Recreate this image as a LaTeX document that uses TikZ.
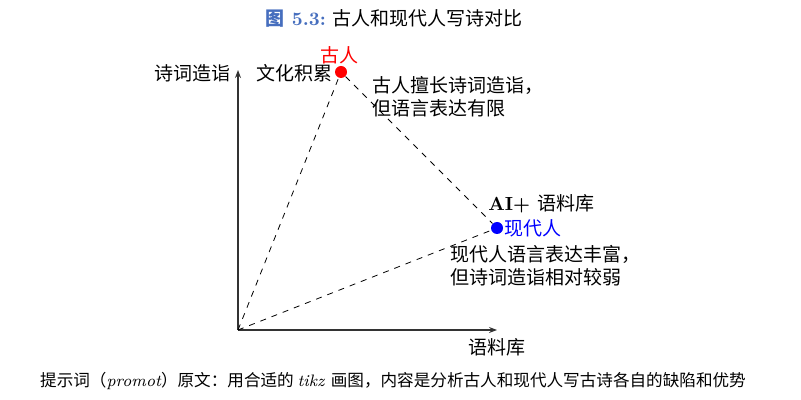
\documentclass[tikz,border=0pt]{standalone}
\usepackage{fontspec}
\newfontfamily\cjk{Noto Sans CJK SC}
\usetikzlibrary{arrows.meta,positioning}
\definecolor{capblue}{RGB}{70,110,190}

\begin{document}
\begin{tikzpicture}[
    x=0.5pt, y=-0.5pt,
    every node/.style={font=\cjk\fontsize{9.5}{11.5}\selectfont, inner sep=1pt},
    axis/.style={-{Stealth[length=4pt,width=3pt]}, semithick, black!80},
    link/.style={dashed, thin},
    dot/.style={circle, inner sep=0pt, minimum size=6pt},
    note/.style={align=left, anchor=north west}
]
\useasboundingbox (0,0) rectangle (801,400);

% 坐标轴
\coordinate (o) at (238,330);
\coordinate (xend) at (497,330);
\coordinate (yend) at (238,70);
\draw[axis] (o) -- (xend);
\draw[axis] (o) -- (yend);
\node[anchor=north] (xlab) at (497,336) {语料库};
\node[anchor=east] (ylab) at (233,73) {诗词造诣};

% 两个点
\node[dot, fill=red] (gu) at (341,72) {};
\node[dot, fill=blue] (xian) at (497,228) {};
\node[red, anchor=south] (gulab) at (339,66) {古人};
\node[anchor=east] (wenhua) at (335,73) {文化积累};
\node[blue, anchor=west] (xianlab) at (502,228) {现代人};
\node[anchor=south west] (ai) at (486,215) {\rmfamily\bfseries AI+ \cjk\mdseries 语料库};

% 虚线
\draw[link] (o) -- (gu);
\draw[link] (o) -- (xian);
\draw[link] (gu) -- (xian);

% 说明
\node[note] (gunote) at (370,74) {古人擅长诗词造诣，\\但语言表达有限};
\node[note] (xiannote) at (448,243) {现代人语言表达丰富，\\但诗词造诣相对较弱};

% 标题与提示词
\node (title) at (394,18) {{\color{capblue}\bfseries 图\rmfamily\ 5.3:}\rmfamily\ \cjk 古人和现代人写诗对比};
\node[font=\cjk\fontsize{8.3}{10}\selectfont] (prompt) at (393,381) {提示词（\rmfamily\itshape promot\cjk\upshape ）原文：用合适的 \rmfamily\itshape tikz \cjk\upshape 画图，内容是分析古人和现代人写古诗各自的缺陷和优势};

\end{tikzpicture}
\end{document}
